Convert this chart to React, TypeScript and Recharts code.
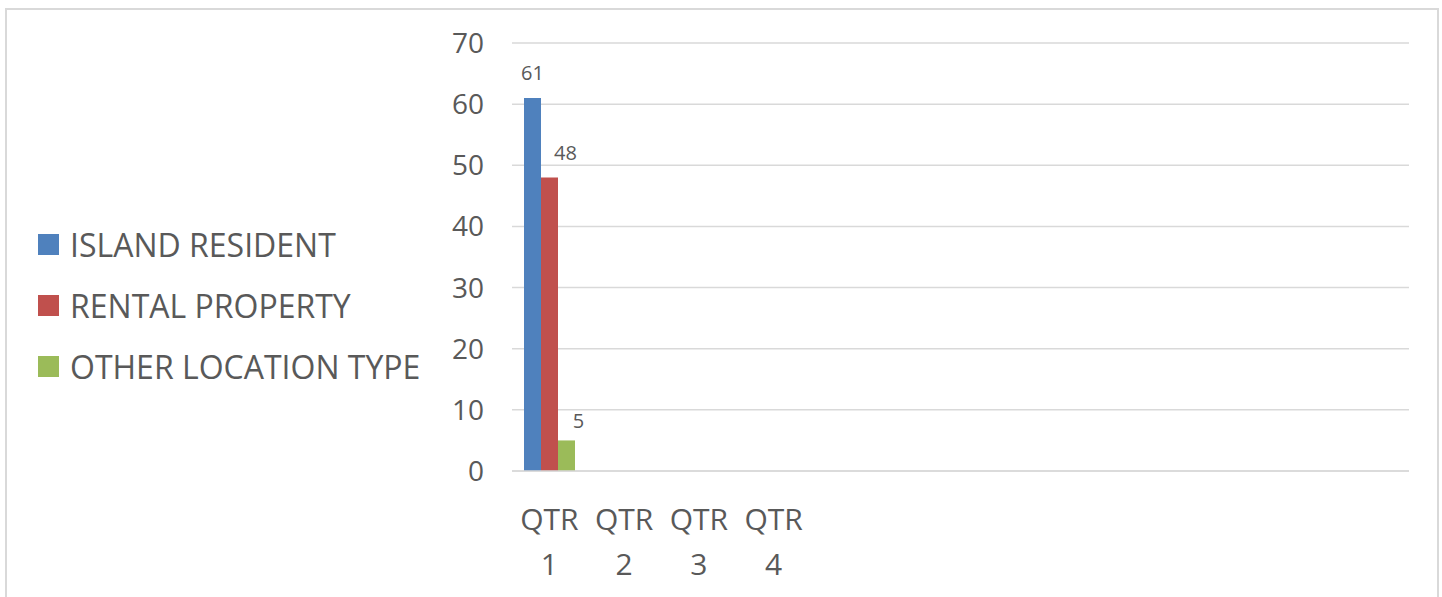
import { BarChart, Bar, XAxis, YAxis, CartesianGrid, LabelList } from 'recharts'

// 12 category slots on the axis, only the first four are labelled
const categories = ['QTR 1', 'QTR 2', 'QTR 3', 'QTR 4', '', '', '', '', '', '', '', '']
const islandResident = [61, null, null, null, null, null, null, null, null, null, null, null]
const rentalProperty = [48, null, null, null, null, null, null, null, null, null, null, null]
const otherLocation = [5, null, null, null, null, null, null, null, null, null, null, null]
const yTicks = [0, 10, 20, 30, 40, 50, 60, 70]

// labelDx / labelOffset: data labels were nudged a bit in the original
const series = [
  { key: 'island', name: 'ISLAND RESIDENT', color: '#4F81BD', labelDx: 0, labelOffset: 18 },
  { key: 'rental', name: 'RENTAL PROPERTY', color: '#C0504D', labelDx: 16, labelOffset: 18 },
  { key: 'other', name: 'OTHER LOCATION TYPE', color: '#9BBB59', labelDx: 12, labelOffset: 12 },
]

const chartData = categories.map((label, i) => ({
  id: `c${i}`,
  label,
  island: islandResident[i],
  rental: rentalProperty[i],
  other: otherLocation[i],
}))

const FONT = '"Open Sans", sans-serif'
const TEXT = '#595959'
const FRAME = '#D9D9D9'

function QtrTick(props: any) {
  const { x, y, index } = props
  const label = categories[index] || ''
  if (!label) return null
  const [a, b] = label.split(' ')
  return (
    <g>
      <text x={x} y={y + 59} textAnchor="middle" fill={TEXT} fontSize={30} fontFamily={FONT}>
        {a}
      </text>
      <text x={x} y={y + 104} textAnchor="middle" fill={TEXT} fontSize={30} fontFamily={FONT}>
        {b}
      </text>
    </g>
  )
}

export default function App() {
  return (
    <div style={{ margin: -8, position: 'relative', width: 1442, height: 597, background: '#fff' }}>
      <div style={{ position: 'absolute', left: 0, top: 0 }}>
        <BarChart
          width={1442}
          height={597}
          data={chartData}
          margin={{ top: 43, right: 33, left: 432, bottom: 0 }}
          barCategoryGap={12}
          barGap={0}
        >
          <CartesianGrid vertical={false} stroke="#D9D9D9" strokeWidth={1.5} />
          <XAxis
            dataKey="id"
            interval={0}
            tickLine={false}
            axisLine={{ stroke: '#D9D9D9', strokeWidth: 1.5 }}
            tickSize={0}
            tickMargin={0}
            height={126}
            tick={<QtrTick />}
          />
          <YAxis
            domain={[0, 70]}
            ticks={yTicks}
            width={80}
            tickLine={false}
            axisLine={false}
            tickMargin={22}
            tick={{ fill: TEXT, fontSize: 28, fontFamily: FONT }}
          />
          {series.map((s) => (
            <Bar key={s.key} dataKey={s.key} name={s.name} fill={s.color} isAnimationActive={false}>
              <LabelList
                dataKey={s.key}
                position="top"
                offset={s.labelOffset}
                dx={s.labelDx}
                fill={TEXT}
                fontSize={20}
                fontFamily={FONT}
              />
            </Bar>
          ))}
        </BarChart>
      </div>
      <div style={{ position: 'absolute', left: 38, top: 214, fontFamily: FONT }}>
        {series.map((s) => (
          <div key={s.key} style={{ display: 'flex', alignItems: 'center', height: 61, whiteSpace: 'nowrap' }}>
            <div style={{ width: 21, height: 21, background: s.color, marginRight: 11 }} />
            <span style={{ color: TEXT, fontSize: 32 }}>{s.name}</span>
          </div>
        ))}
      </div>
      {/* outer chart frame, open at the bottom */}
      <div style={{ position: 'fixed', left: 5, top: 8, width: 2, height: 600, background: FRAME }} />
      <div style={{ position: 'fixed', left: 1437, top: 8, width: 2, height: 600, background: FRAME }} />
      <div style={{ position: 'fixed', left: 5, top: 8, width: 1434, height: 2, background: FRAME }} />
    </div>
  )
}
